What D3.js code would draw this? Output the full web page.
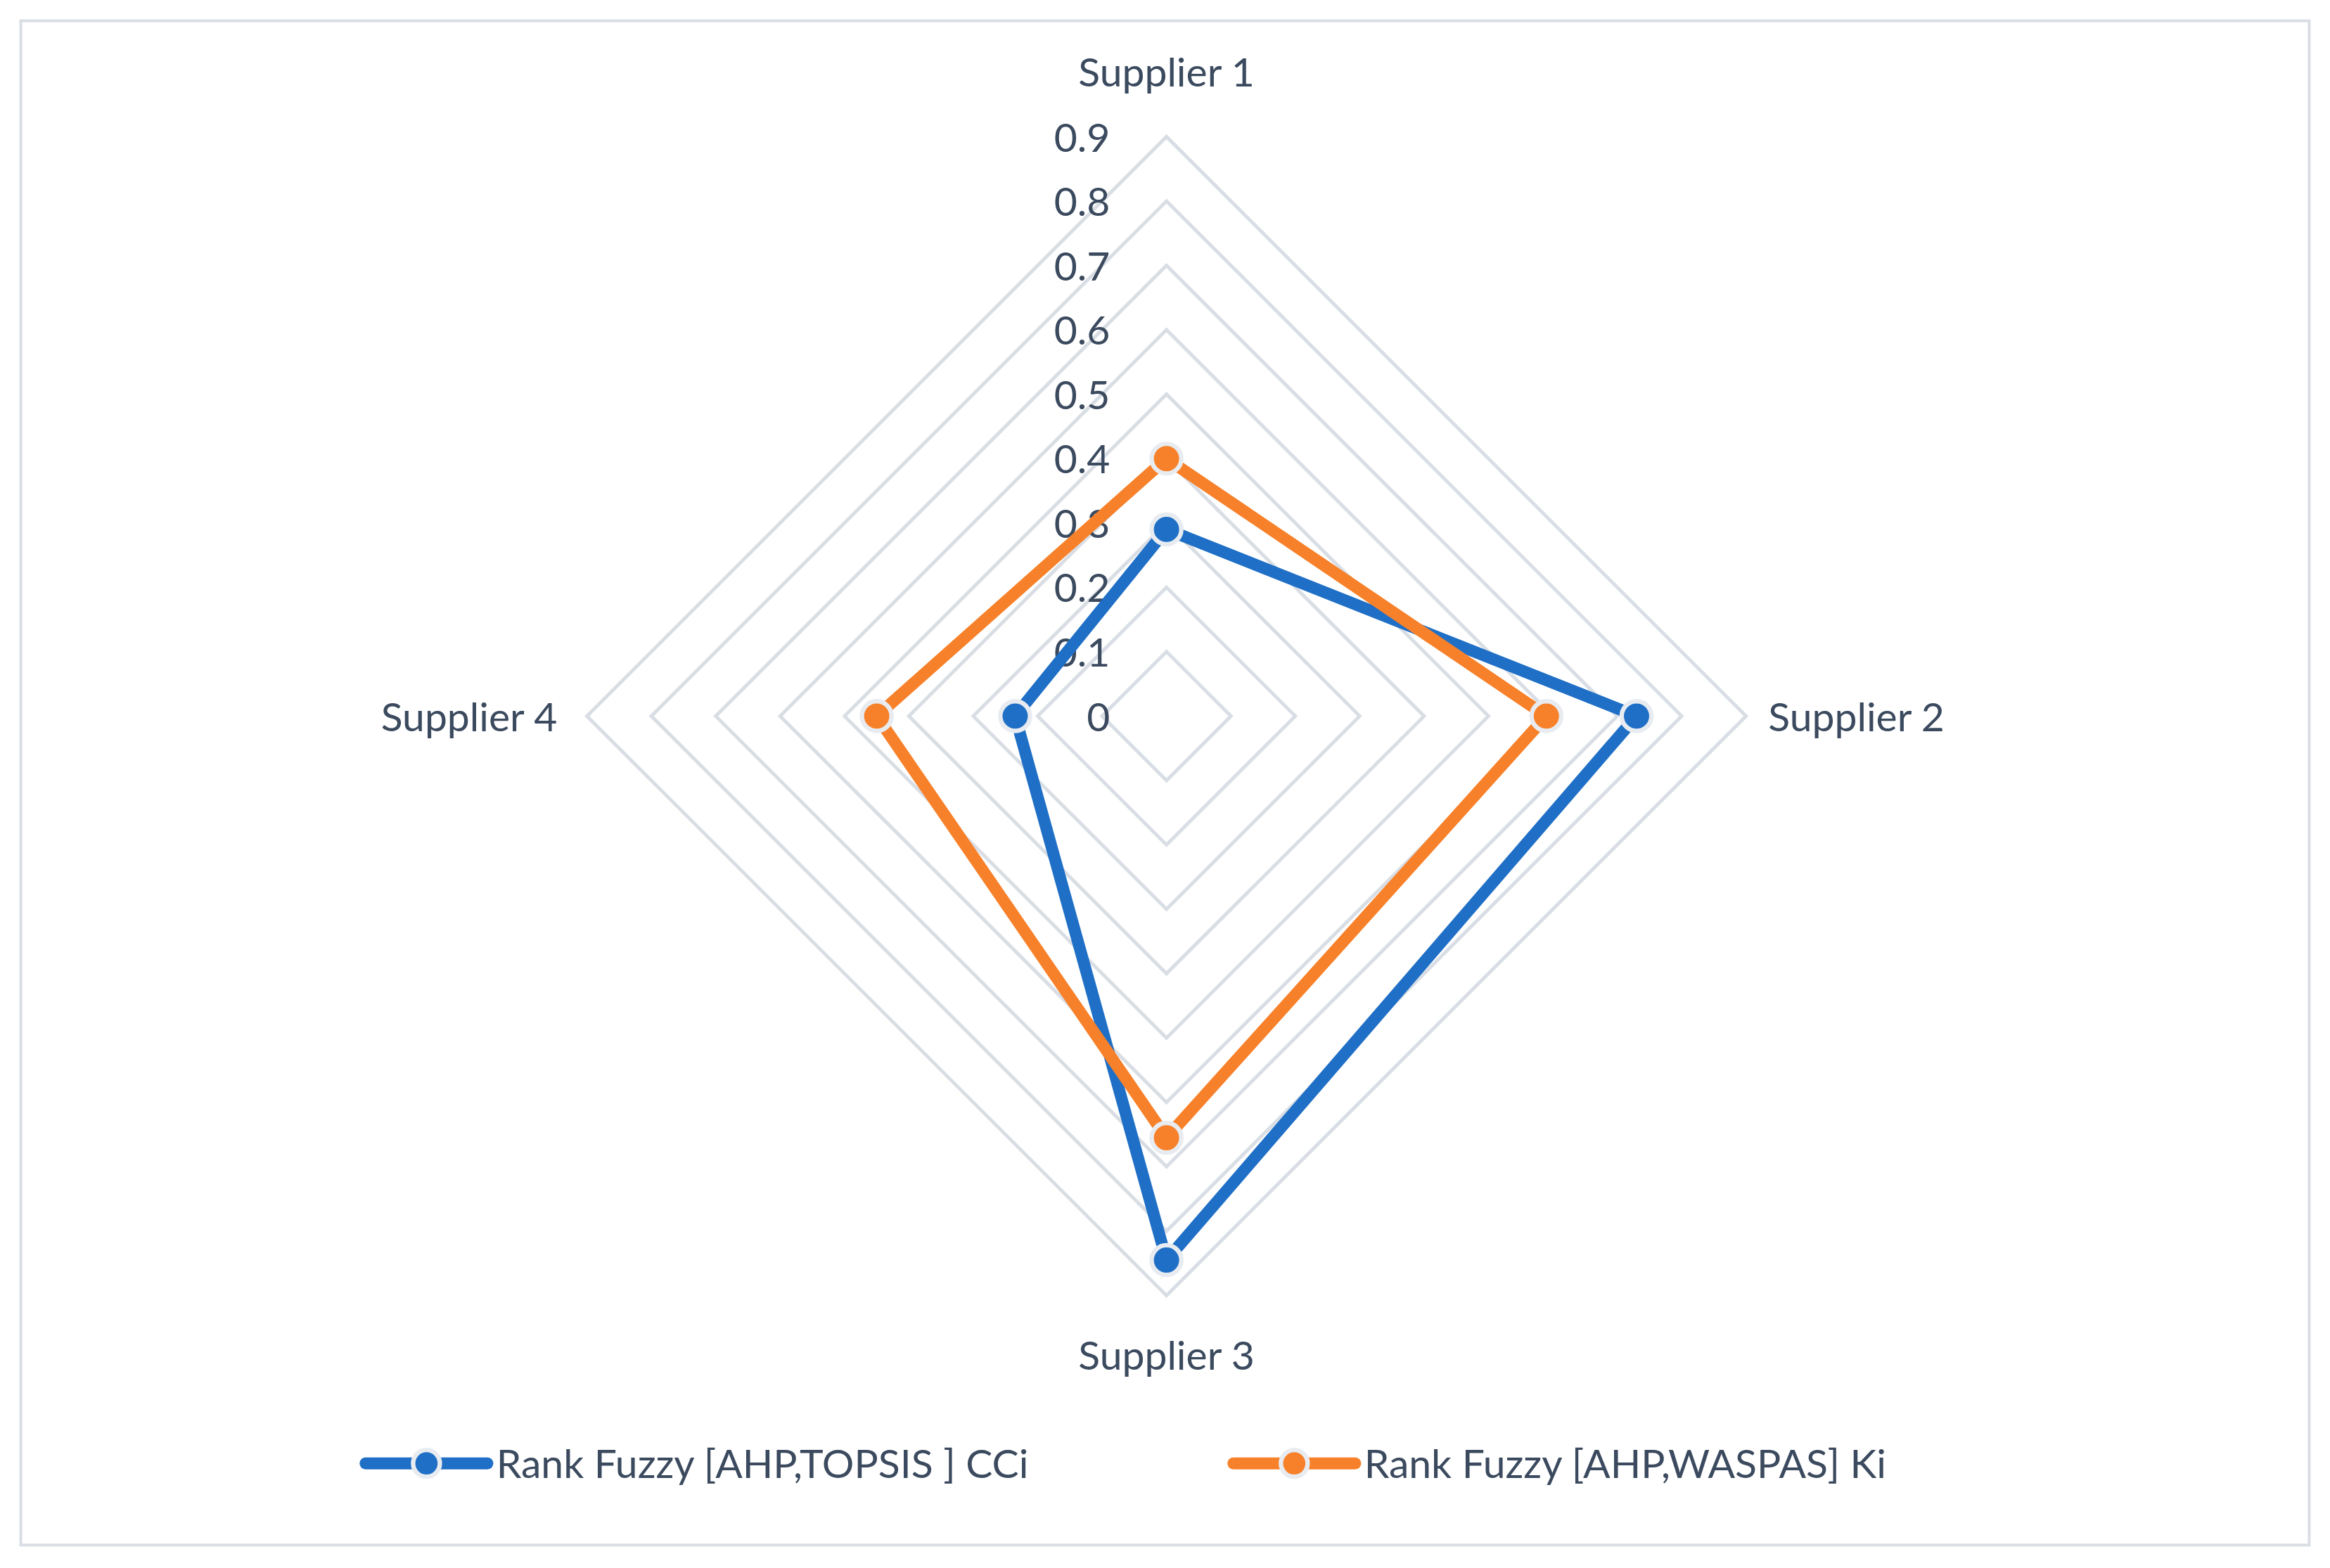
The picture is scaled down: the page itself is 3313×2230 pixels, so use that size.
<!DOCTYPE html>
<html><head><meta charset="utf-8">
<script src="https://cdn.jsdelivr.net/npm/d3@7"></script>
<style>body{margin:0;background:#fff}svg{display:block}</style></head>
<body><svg id="c" width="3313" height="2230"></svg>
<script>
const categories=["Supplier 1","Supplier 2","Supplier 3","Supplier 4"];
const topsis=[0.29,0.73,0.845,0.235];
const waspas=[0.40,0.59,0.655,0.45];
const ticks=[0,0.1,0.2,0.3,0.4,0.5,0.6,0.7,0.8,0.9];
const seriesNames=["Rank Fuzzy [AHP,TOPSIS ] CCi","Rank Fuzzy [AHP,WASPAS] Ki"];
const colors=["#1f6fc6","#f7812a"];
const k=3313/1568;
const svg=d3.select("#c");
const font="Lato, 'Open Sans', sans-serif";
svg.append("rect").attr("x",14*k).attr("y",14*k).attr("width",1540*k).attr("height",1026*k).attr("fill","#fff").attr("stroke","#d9dee5").attr("stroke-width",4);
const cx=785*k,cy=482*k;
const r=d3.scaleLinear().domain([0,0.9]).range([0,390*k]);
const ang=i=>-Math.PI/2+i*Math.PI/2;
const pt=(i,v)=>[cx+r(v)*Math.cos(ang(i)),cy+r(v)*Math.sin(ang(i))];
const g=svg.append("g");
ticks.slice(1).forEach(t=>{
  g.append("polygon").attr("points",categories.map((c,i)=>pt(i,t).join(",")).join(" "))
   .attr("fill","none").attr("stroke","#d9dee5").attr("stroke-width",5);
});
ticks.forEach(t=>{
  g.append("text").attr("x",cx-38*k).attr("y",cy-r(t)+10*k).attr("text-anchor","end")
   .attr("font-family",font).attr("font-size",27*k).attr("fill","#3b4a5e").text(t);
});
const lp=[[785,52,"middle"],[1190,492,"start"],[785,922,"middle"],[375,492,"end"]];
categories.forEach((c,i)=>{
  g.append("text").attr("x",lp[i][0]*k).attr("y",lp[i][1]*k+ (i==0?6*k:0)).attr("text-anchor",lp[i][2])
   .attr("font-family",font).attr("font-size",27*k).attr("fill","#3b4a5e").text(c);
});
[topsis,waspas].forEach((s,j)=>{
  const line=d3.line().curve(d3.curveLinearClosed);
  g.append("path").attr("d",line(s.map((v,i)=>pt(i,v)))).attr("fill","none")
   .attr("stroke",colors[j]).attr("stroke-width",8*k).attr("stroke-linejoin","round");
  s.forEach((v,i)=>{const p=pt(i,v);
    g.append("circle").attr("cx",p[0]).attr("cy",p[1]).attr("r",10*k).attr("fill",colors[j])
     .attr("stroke","#e8ecf1").attr("stroke-width",3*k);});
});
const lx=[246,830];
seriesNames.forEach((n,j)=>{
  const y=985*k,x=lx[j]*k;
  svg.append("line").attr("x1",x).attr("x2",x+82*k).attr("y1",y).attr("y2",y).attr("stroke",colors[j]).attr("stroke-width",8*k).attr("stroke-linecap","round");
  svg.append("circle").attr("cx",x+41*k).attr("cy",y).attr("r",9*k).attr("fill",colors[j]).attr("stroke","#e8ecf1").attr("stroke-width",3*k);
  svg.append("text").attr("x",x+88*k).attr("y",y+10*k).attr("font-family",font).attr("font-size",27*k).attr("fill","#3b4a5e").text(n);
});
</script></body></html>
